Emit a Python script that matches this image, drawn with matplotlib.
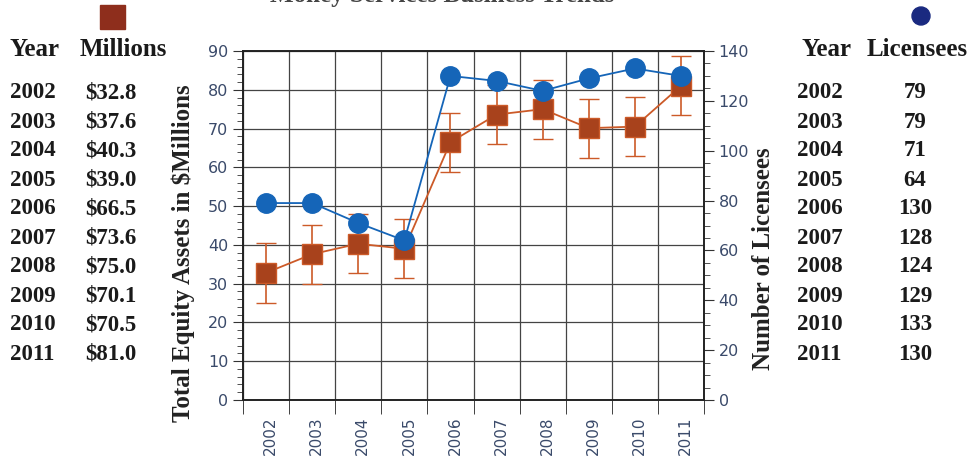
import matplotlib
matplotlib.use("Agg")
import matplotlib.pyplot as plt
from matplotlib.ticker import MultipleLocator, FixedLocator
import numpy as np

years = ["2002", "2003", "2004", "2005", "2006", "2007", "2008", "2009", "2010", "2011"]
millions = [32.8, 37.6, 40.3, 39.0, 66.5, 73.6, 75.0, 70.1, 70.5, 81.0]
millions_err = [7.8, 7.6, 7.6, 7.6, 7.6, 7.6, 7.6, 7.6, 7.6, 7.6]
licensees = [79, 79, 71, 64, 130, 128, 124, 129, 133, 130]

brown = "#a8421c"
brown_edge = "#cc5a28"
blue = "#1565b8"
tick_col = "#3a4a6a"
serif = "Liberation Serif"
W, H = 976, 463

fig = plt.figure(figsize=(9.76, 4.63), dpi=100)
ax = fig.add_axes([243 / W, 1 - 400 / H, 461 / W, 349 / H])
ax2 = ax.twinx()

x = np.arange(len(years))

# equity series (left axis)
ax.errorbar(x, millions, yerr=millions_err, color=brown_edge, lw=1.3,
            marker="s", ms=14, mfc=brown, mec=brown_edge, mew=1,
            capsize=7, elinewidth=1.2, capthick=1.2, zorder=3)
# licensees (right axis)
ax2.plot(x, licensees, color=blue, lw=1.3, marker="o", ms=14,
         mfc=blue, mec=blue, zorder=4)

ax.set_xlim(-0.5, len(years) - 0.5)
ax.set_ylim(0, 90)
ax2.set_ylim(0, 140)

ax.yaxis.set_major_locator(MultipleLocator(10))
ax.yaxis.set_minor_locator(MultipleLocator(2))
ax2.yaxis.set_major_locator(MultipleLocator(20))
ax2.yaxis.set_minor_locator(MultipleLocator(5))

ax.set_xticks(x + 0.1)
ax.set_xticklabels(years, rotation=90, color=tick_col, fontsize=11)
ax.tick_params(axis="x", which="major", length=0, pad=12)
ax.xaxis.set_minor_locator(FixedLocator(np.arange(-0.5, len(years), 1.0)))
ax.tick_params(axis="x", which="minor", length=10, direction="out", color="#222222")

for a in (ax, ax2):
    a.tick_params(axis="y", which="major", length=7, labelsize=11.5,
                  labelcolor=tick_col, color="#333333")
    a.tick_params(axis="y", which="minor", length=4, color="#333333")

ax.grid(True, which="major", axis="y", color="#444444", lw=0.9)
ax.grid(True, which="minor", axis="x", color="#444444", lw=0.9)
ax.set_axisbelow(True)
for sp in list(ax.spines.values()) + list(ax2.spines.values()):
    sp.set_color("#222222")
    sp.set_linewidth(1.2)

# axis titles
fig.text(183 / W, 1 - 253 / H, "Total Equity Assets in $Millions", family=serif,
         fontweight="bold", fontsize=18, color="#222222", rotation=90,
         ha="center", va="center")
fig.text(763 / W, 1 - 259 / H, "Number of Licensees", family=serif,
         fontweight="bold", fontsize=18, color="#222222", rotation=90,
         ha="center", va="center")

# title cut off by the top edge
fig.text(442 / W, 1 - 2 / H, "Money Services Business Trends", family=serif, fontweight="bold",
         fontsize=18, color="#444444", ha="center", va="baseline")

# value tables
hdr = dict(family=serif, fontweight="bold", fontsize=18, color="#1a1a1a")
row = dict(family=serif, fontweight="bold", fontsize=16.5, color="#1a1a1a")
fig.text(10 / W, 1 - 49 / H, "Year", va="center", **hdr)
fig.text(80 / W, 1 - 49 / H, "Millions", va="center", **hdr)
fig.text(801 / W, 1 - 49 / H, "Year", va="center", **hdr)
fig.text(867 / W, 1 - 49 / H, "Licensees", va="center", **hdr)
for i, yr in enumerate(years):
    yy = 1 - (93 + i * 29) / H
    fig.text(10 / W, yy, yr, va="center", **row)
    fig.text(85 / W, yy, "$%.1f" % millions[i], va="center", **row)
    fig.text(797 / W, yy, yr, va="center", **row)
    fig.text(915 / W, yy, str(licensees[i]), va="center", ha="center", **row)

# legend symbols above the tables
fig.add_artist(matplotlib.patches.Rectangle((100 / W, 1 - 29 / H), 25 / W, 24 / H,
                                            transform=fig.transFigure, facecolor="#8e2e1c",
                                            edgecolor="#8e2e1c"))
fig.add_artist(matplotlib.patches.Ellipse((921 / W, 1 - 16 / H), 18 / W, 18 / H,
                                          transform=fig.transFigure, color="#1a2a80"))

fig.savefig("out.png", dpi=100)
